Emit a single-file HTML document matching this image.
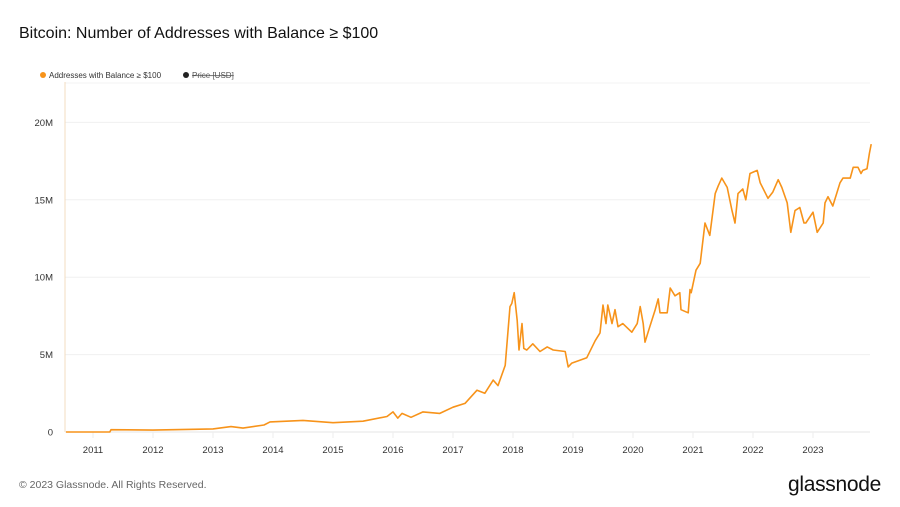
<!DOCTYPE html>
<html><head><meta charset="utf-8"><style>
body{margin:0;background:#fff;width:900px;height:507px;overflow:hidden;font-family:"Liberation Sans",sans-serif}
svg{display:block}
</style></head><body>
<svg width="900" height="507">
<text x="19" y="38" font-size="16" fill="#111">Bitcoin: Number of Addresses with Balance ≥ $100</text>
<g>
<circle cx="43" cy="75" r="3" fill="#f7931a"/>
<text x="49" y="78" font-size="8" fill="#333">Addresses with Balance ≥ $100</text>
<circle cx="186" cy="75" r="3" fill="#222"/>
<text x="192" y="78" font-size="8" fill="#555" text-decoration="line-through">Price [USD]</text>
</g>
<g id="grid"></g>
<g id="yticks"></g>
<g id="xticks"></g>
<line x1="65" y1="82" x2="65" y2="432" stroke="#f3dcc0" stroke-width="1"/>
<path id="series" fill="none" stroke="#f7931a" stroke-width="1.6" stroke-linejoin="round"/>
<text x="19" y="488" font-size="10.5" fill="#666">© 2023 Glassnode. All Rights Reserved.</text>
<text x="881" y="491" font-size="21" fill="#111" text-anchor="end" letter-spacing="-0.3">glassnode</text>
</svg>
<script>
const dates=[2010.55,2011.28,2011.3,2012.0,2013.0,2013.3,2013.5,2013.85,2013.95,2014.5,2015.0,2015.5,2015.9,2016.0,2016.08,2016.15,2016.3,2016.5,2016.78,2017.0,2017.2,2017.4,2017.53,2017.67,2017.75,2017.87,2017.95,2017.98,2018.02,2018.07,2018.1,2018.15,2018.18,2018.23,2018.33,2018.45,2018.57,2018.67,2018.87,2018.92,2018.98,2019.23,2019.37,2019.45,2019.5,2019.55,2019.58,2019.65,2019.7,2019.75,2019.83,2019.98,2020.07,2020.12,2020.17,2020.2,2020.28,2020.37,2020.42,2020.45,2020.57,2020.62,2020.7,2020.78,2020.8,2020.92,2020.95,2020.97,2021.05,2021.12,2021.2,2021.28,2021.37,2021.42,2021.48,2021.57,2021.65,2021.7,2021.75,2021.83,2021.88,2021.95,2022.07,2022.12,2022.25,2022.33,2022.42,2022.48,2022.57,2022.63,2022.7,2022.78,2022.85,2022.88,2023.0,2023.07,2023.17,2023.2,2023.25,2023.33,2023.45,2023.5,2023.62,2023.67,2023.75,2023.8,2023.83,2023.9,2023.94,2023.97];
const values=[0.0,0.0,0.15,0.12,0.2,0.35,0.25,0.45,0.65,0.75,0.6,0.7,1.0,1.3,0.9,1.2,0.95,1.3,1.2,1.6,1.85,2.7,2.5,3.35,3.0,4.3,8.1,8.3,9.0,7.2,5.3,7.0,5.4,5.3,5.7,5.2,5.5,5.3,5.2,4.2,4.45,4.8,5.9,6.4,8.2,7.0,8.2,7.0,7.9,6.8,7.0,6.45,7.0,8.1,7.0,5.8,6.8,7.9,8.6,7.7,7.7,9.3,8.8,9.0,7.9,7.7,9.2,9.0,10.45,10.9,13.5,12.7,15.4,15.9,16.4,15.8,14.3,13.5,15.4,15.7,15.0,16.7,16.9,16.1,15.1,15.5,16.3,15.8,14.8,12.9,14.3,14.5,13.5,13.5,14.2,12.9,13.5,14.8,15.2,14.6,16.1,16.4,16.4,17.1,17.1,16.7,16.9,17.0,18.0,18.6,19.0,19.8];
const yTickValues=[0,5,10,15,20];
const yTickLabels=["0","5M","10M","15M","20M"];
const xTickYears=[2011,2012,2013,2014,2015,2016,2017,2018,2019,2020,2021,2022,2023];
const NS="http://www.w3.org/2000/svg";
function xs(yr){return 93+(yr-2011)*60;}
function ys(v){return 432-v*15.48;}
const grid=document.getElementById('grid'),yt=document.getElementById('yticks'),xt=document.getElementById('xticks');
yTickValues.forEach((v,i)=>{
 const l=document.createElementNS(NS,'line');
 l.setAttribute('x1',65);l.setAttribute('x2',870);l.setAttribute('y1',ys(v));l.setAttribute('y2',ys(v));
 l.setAttribute('stroke',v===0?'#e6e6e6':'#f0f0f0');
 
 
 grid.appendChild(l);
 const t=document.createElementNS(NS,'text');
 t.setAttribute('x',53);t.setAttribute('y',ys(v)+3.5);t.setAttribute('text-anchor','end');
 t.setAttribute('font-size','9.5');t.setAttribute('fill','#333');t.textContent=yTickLabels[i];
 
 
 yt.appendChild(t);
});
const tl=document.createElementNS(NS,'line');
tl.setAttribute('x1',65);tl.setAttribute('x2',870);tl.setAttribute('y1',83);tl.setAttribute('y2',83);tl.setAttribute('stroke','#f3f3f3');


grid.appendChild(tl);
xTickYears.forEach(yr=>{
 const k=document.createElementNS(NS,'line');
 k.setAttribute('x1',xs(yr));k.setAttribute('x2',xs(yr));k.setAttribute('y1',432);k.setAttribute('y2',438);k.setAttribute('stroke','#eee');
 
 
 xt.appendChild(k);
 const t=document.createElementNS(NS,'text');
 t.setAttribute('x',xs(yr));t.setAttribute('y',453);t.setAttribute('text-anchor','middle');
 t.setAttribute('font-size','9.5');t.setAttribute('fill','#333');t.textContent=yr;
 
 
 xt.appendChild(t);
});
document.getElementById('series').setAttribute('d',dates.map((d,i)=>(i?'L':'M')+xs(d).toFixed(1)+' '+ys(values[i]).toFixed(1)).join(' '));
</script>
</body></html>
